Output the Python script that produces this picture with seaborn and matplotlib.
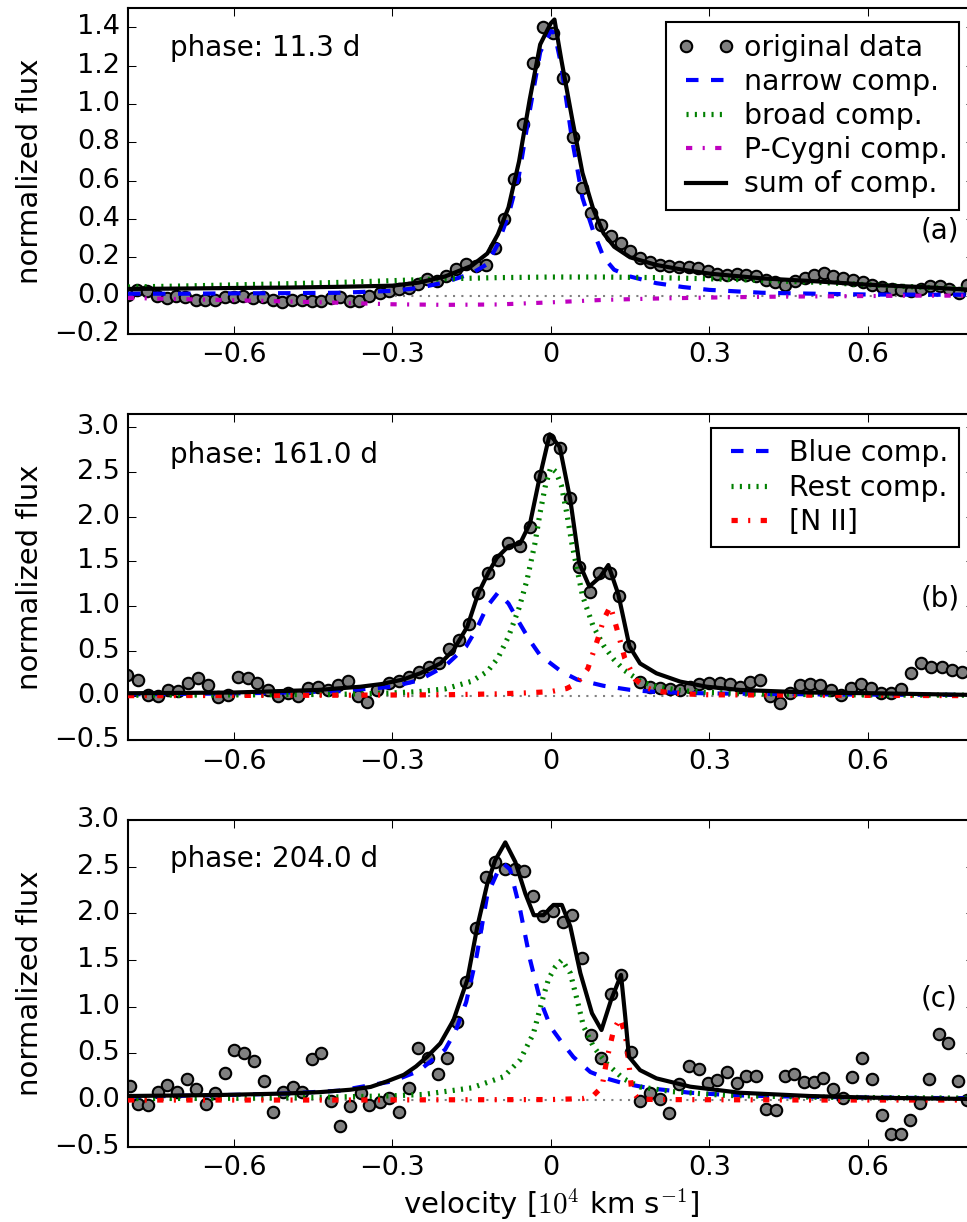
import numpy as np
import seaborn as sns
import matplotlib.pyplot as plt
from matplotlib.ticker import MultipleLocator

plt.style.use('classic')
plt.rcParams['figure.facecolor'] = 'white'
plt.rcParams['savefig.facecolor'] = 'white'
plt.rcParams['mathtext.fontset'] = 'cm'
plt.rcParams['font.family'] = ['DejaVu Sans']
plt.rcParams['font.size'] = 12

# ---------------- panel (a): phase 11.3 d ----------------
a_data_x = [-0.800, -0.783, -0.764, -0.746, -0.727, -0.709, -0.692, -0.671, -0.655, -0.636,
            -0.617, -0.600, -0.582, -0.563, -0.544, -0.525, -0.508, -0.490, -0.471, -0.452,
            -0.435, -0.416, -0.399, -0.380, -0.362, -0.343, -0.324, -0.307, -0.288, -0.269,
            -0.252, -0.235, -0.216, -0.198, -0.179, -0.161, -0.142, -0.123, -0.105, -0.088,
            -0.069, -0.052, -0.033, -0.015, 0.004, 0.023, 0.042, 0.059, 0.077, 0.095,
            0.114, 0.133, 0.150, 0.169, 0.187, 0.206, 0.224, 0.242, 0.261, 0.278,
            0.297, 0.315, 0.334, 0.352, 0.370, 0.388, 0.407, 0.425, 0.444, 0.462,
            0.481, 0.498, 0.517, 0.535, 0.553, 0.572, 0.590, 0.608, 0.627, 0.645,
            0.663, 0.681, 0.700, 0.717, 0.736, 0.753, 0.772, 0.788]
a_data_y = [0.005, 0.027, 0.022, -0.004, -0.012, -0.004, -0.008, -0.021, -0.024, -0.021,
            -0.008, -0.008, -0.004, -0.012, -0.008, -0.021, -0.033, -0.021, -0.021, -0.026,
            -0.026, -0.012, -0.008, -0.026, -0.026, -0.004, 0.014, 0.026, 0.035, 0.040,
            0.061, 0.087, 0.075, 0.100, 0.139, 0.167, 0.153, 0.162, 0.248, 0.399,
            0.609, 0.894, 1.212, 1.400, 1.371, 1.137, 0.827, 0.561, 0.431, 0.367,
            0.312, 0.275, 0.231, 0.196, 0.174, 0.162, 0.153, 0.147, 0.147, 0.144,
            0.126, 0.114, 0.109, 0.114, 0.109, 0.100, 0.084, 0.069, 0.057, 0.075,
            0.093, 0.109, 0.118, 0.104, 0.093, 0.084, 0.069, 0.057, 0.045, 0.035,
            0.031, 0.022, 0.035, 0.048, 0.052, 0.035, 0.014, 0.057]

a_grid = [-0.8, -0.7, -0.6, -0.5, -0.4, -0.3, -0.25, -0.2, -0.15, -0.12, -0.1, -0.08, -0.06,
          -0.04, -0.02, 0.0, 0.007, 0.02, 0.04, 0.06, 0.08, 0.1, 0.12, 0.15, 0.2, 0.25, 0.3,
          0.4, 0.5, 0.6, 0.7, 0.8]
a_narrow = [0.01, 0.01, 0.012, 0.013, 0.015, 0.025, 0.04, 0.07, 0.115, 0.165, 0.27, 0.42, 0.63,
            0.96, 1.27, 1.38, 1.37, 1.2, 0.82, 0.51, 0.34, 0.2, 0.135, 0.1, 0.065, 0.045, 0.03,
            0.015, 0.01, 0.006, 0.005, 0.005]
a_sum = [0.035, 0.037, 0.04, 0.042, 0.046, 0.052, 0.068, 0.1, 0.155, 0.22, 0.32, 0.46, 0.70,
         1.02, 1.31, 1.42, 1.44, 1.23, 0.93, 0.64, 0.455, 0.325, 0.255, 0.2, 0.16, 0.135, 0.115,
         0.09, 0.075, 0.057, 0.045, 0.03]
a_wide_x = [-0.8, -0.7, -0.6, -0.5, -0.4, -0.3, -0.2, -0.1, 0.0, 0.1, 0.2, 0.3, 0.4, 0.5,
            0.6, 0.7, 0.8]
a_broad = [0.045, 0.05, 0.056, 0.062, 0.069, 0.078, 0.088, 0.094, 0.097, 0.097, 0.094, 0.088,
           0.08, 0.07, 0.057, 0.044, 0.032]
a_pcyg = [-0.012, -0.018, -0.024, -0.03, -0.037, -0.045, -0.048, -0.046, -0.035, -0.022,
          -0.015, -0.01, -0.006, -0.004, -0.002, 0.0, 0.0]

# ---------------- panel (b): phase 161.0 d ----------------
b_data_x = [-0.802, -0.781, -0.763, -0.744, -0.725, -0.706, -0.687, -0.668, -0.649, -0.630,
            -0.611, -0.592, -0.573, -0.555, -0.536, -0.517, -0.498, -0.479, -0.460, -0.441,
            -0.422, -0.403, -0.384, -0.365, -0.347, -0.328, -0.307, -0.288, -0.269, -0.250,
            -0.231, -0.212, -0.193, -0.174, -0.155, -0.137, -0.118, -0.099, -0.080, -0.059,
            -0.040, -0.021, -0.003, 0.017, 0.037, 0.054, 0.075, 0.092, 0.113, 0.130,
            0.149, 0.168, 0.187, 0.206, 0.225, 0.245, 0.263, 0.281, 0.300, 0.321,
            0.340, 0.358, 0.377, 0.396, 0.415, 0.434, 0.453, 0.472, 0.491, 0.510,
            0.530, 0.549, 0.568, 0.587, 0.606, 0.625, 0.643, 0.662, 0.681, 0.700,
            0.719, 0.740, 0.759, 0.778]
b_data_y = [0.23, 0.176, 0.008, -0.003, 0.064, 0.053, 0.138, 0.20, 0.12, -0.018,
            0.008, 0.21, 0.20, 0.145, 0.064, -0.003, 0.027, -0.003, 0.083, 0.10,
            0.064, 0.12, 0.164, -0.003, -0.067, 0.064, 0.146, 0.168, 0.21, 0.27,
            0.32, 0.36, 0.52, 0.62, 0.80, 1.145, 1.375, 1.52, 1.71, 1.67,
            1.89, 2.46, 2.87, 2.77, 2.21, 1.44, 1.16, 1.37, 1.376, 1.115,
            0.55, 0.157, 0.10, 0.083, 0.072, 0.064, 0.094, 0.131, 0.139, 0.139,
            0.131, 0.094, 0.157, 0.176, -0.003, -0.085, 0.027, 0.12, 0.13, 0.12,
            0.064, 0.008, 0.083, 0.131, 0.083, 0.027, 0.027, 0.072, 0.25, 0.37,
            0.325, 0.318, 0.29, 0.27]

b_blue_x = [-0.8, -0.7, -0.6, -0.5, -0.4, -0.3, -0.25, -0.2, -0.16, -0.14, -0.12, -0.1, -0.08,
            -0.06, -0.04, -0.02, 0.0, 0.02, 0.05, 0.1, 0.15, 0.2, 0.3, 0.4, 0.5, 0.6, 0.7, 0.8]
b_blue_y = [0.015, 0.02, 0.025, 0.035, 0.05, 0.1, 0.17, 0.33, 0.55, 0.75, 1.0, 1.15, 1.03,
            0.82, 0.62, 0.45, 0.36, 0.27, 0.18, 0.11, 0.065, 0.04, 0.025, 0.02, 0.015, 0.012,
            0.01, 0.008]
b_rest_x = [-0.8, -0.6, -0.4, -0.3, -0.25, -0.2, -0.15, -0.12, -0.1, -0.08, -0.06, -0.045,
            -0.03, -0.02, -0.01, 0.0, 0.01, 0.02, 0.03, 0.04, 0.05, 0.06, 0.08, 0.1, 0.12,
            0.14, 0.17, 0.2, 0.25, 0.3, 0.4, 0.5, 0.6, 0.8]
b_rest_y = [0.005, 0.008, 0.015, 0.03, 0.045, 0.075, 0.16, 0.27, 0.42, 0.66, 0.98, 1.29,
            1.7, 2.05, 2.35, 2.55, 2.5, 2.35, 2.05, 1.7, 1.41, 1.12, 0.78, 0.56, 0.40,
            0.28, 0.16, 0.1, 0.055, 0.035, 0.02, 0.012, 0.008, 0.005]
b_nii_x = [-0.8, -0.4, -0.2, -0.1, -0.05, 0.0, 0.03, 0.05, 0.07, 0.09, 0.1, 0.113, 0.125,
           0.14, 0.16, 0.18, 0.2, 0.25, 0.3, 0.5, 0.8]
b_nii_y = [0.0, 0.005, 0.01, 0.02, 0.03, 0.045, 0.08, 0.14, 0.3, 0.65, 0.85, 1.0, 0.75,
           0.42, 0.18, 0.09, 0.05, 0.02, 0.01, 0.005, 0.0]
b_sum_x = [-0.8, -0.6, -0.44, -0.36, -0.32, -0.28, -0.247, -0.209, -0.184, -0.158, -0.137,
           -0.118, -0.102, -0.08, -0.058, -0.039, -0.021, -0.002, 0.017, 0.037, 0.054, 0.073,
           0.094, 0.109, 0.128, 0.149, 0.169, 0.2, 0.245, 0.295, 0.358, 0.49, 0.61, 0.8]
b_sum_y = [0.027, 0.035, 0.064, 0.1, 0.13, 0.18, 0.25, 0.36, 0.51, 0.77, 1.145,
           1.375, 1.54, 1.67, 1.70, 1.93, 2.44, 2.92, 2.78, 2.19, 1.48, 1.22,
           1.33, 1.46, 1.13, 0.55, 0.36, 0.25, 0.157, 0.10, 0.064, 0.035, 0.027, 0.008]

# ---------------- panel (c): phase 204.0 d ----------------
c_data_x = [-0.797, -0.782, -0.763, -0.744, -0.727, -0.707, -0.689, -0.671, -0.652, -0.635,
            -0.616, -0.599, -0.580, -0.562, -0.543, -0.525, -0.507, -0.488, -0.471, -0.452,
            -0.434, -0.416, -0.399, -0.380, -0.360, -0.343, -0.324, -0.307, -0.288, -0.269,
            -0.251, -0.233, -0.214, -0.196, -0.177, -0.160, -0.141, -0.123, -0.105, -0.086,
            -0.068, -0.050, -0.033, -0.014, 0.005, 0.023, 0.041, 0.059, 0.077, 0.096,
            0.114, 0.133, 0.151, 0.169, 0.187, 0.206, 0.224, 0.242, 0.261, 0.280,
            0.297, 0.315, 0.333, 0.352, 0.370, 0.389, 0.407, 0.426, 0.444, 0.461,
            0.479, 0.498, 0.516, 0.535, 0.553, 0.571, 0.589, 0.608, 0.626, 0.643,
            0.662, 0.680, 0.698, 0.716, 0.735, 0.752, 0.771, 0.787]
c_data_y = [0.15, -0.043, -0.054, 0.089, 0.16, 0.089, 0.22, 0.114, -0.043, 0.071,
            0.286, 0.536, 0.50, 0.42, 0.204, -0.125, 0.089, 0.143, 0.089, 0.436,
            0.50, -0.007, -0.279, -0.064, 0.071, -0.054, -0.018, 0.025, -0.125, 0.132,
            0.554, 0.454, 0.279, 0.446, 0.839, 1.268, 1.84, 2.39, 2.55, 2.47,
            2.48, 2.45, 2.19, 1.97, 2.03, 1.91, 1.98, 1.52, 0.70, 0.446,
            1.14, 1.34, 0.51, -0.011, 0.071, 0.011, -0.143, 0.168, 0.368, 0.332,
            0.186, 0.214, 0.304, 0.186, 0.257, 0.257, -0.1, -0.107, 0.257, 0.279,
            0.196, 0.196, 0.232, 0.114, 0.025, 0.25, 0.454, 0.225, -0.161, -0.364,
            -0.364, -0.214, -0.036, 0.222, 0.707, 0.614, 0.207, 0.0]

c_blue_x = [-0.8, -0.7, -0.6, -0.5, -0.4, -0.3, -0.25, -0.2, -0.18, -0.16, -0.14, -0.12,
            -0.1, -0.089, -0.077, -0.058, -0.039, -0.02, 0.0, 0.018, 0.043, 0.075, 0.106,
            0.137, 0.188, 0.264, 0.35, 0.45, 0.55, 0.7, 0.8]
c_blue_y = [0.035, 0.045, 0.055, 0.07, 0.1, 0.2, 0.31, 0.54, 0.74, 1.05, 1.55, 2.2,
            2.45, 2.53, 2.47, 2.04, 1.5, 1.07, 0.78, 0.64, 0.46, 0.30, 0.23,
            0.18, 0.125, 0.078, 0.05, 0.038, 0.03, 0.022, 0.02]
c_rest_x = [-0.8, -0.6, -0.43, -0.3, -0.24, -0.15, -0.089, -0.058, -0.033, -0.014, -0.004,
            0.009, 0.021, 0.037, 0.05, 0.062, 0.081, 0.106, 0.137, 0.169, 0.23, 0.33, 0.5, 0.8]
c_rest_y = [0.015, 0.02, 0.03, 0.045, 0.06, 0.13, 0.25, 0.43, 0.71, 1.11, 1.3,
            1.43, 1.5, 1.36, 1.07, 0.79, 0.57, 0.39, 0.23, 0.14, 0.09, 0.05, 0.03, 0.02]
c_nii_x = [-0.8, -0.4, 0.0, 0.06, 0.081, 0.097, 0.106, 0.119, 0.131, 0.141, 0.148, 0.153,
           0.166, 0.2, 0.5, 0.8]
c_nii_y = [0.0, 0.0, 0.005, 0.015, 0.05, 0.14, 0.43, 0.75, 0.875, 0.71, 0.39, 0.107,
           0.01, 0.005, 0.0, 0.0]
c_sum_x = [-0.8, -0.626, -0.5, -0.436, -0.38, -0.341, -0.31, -0.278, -0.255, -0.234, -0.209,
           -0.184, -0.158, -0.139, -0.12, -0.105, -0.086, -0.067, -0.048, -0.032, -0.014,
           0.005, 0.021, 0.037, 0.056, 0.078, 0.096, 0.114, 0.133, 0.141, 0.148, 0.169,
           0.2, 0.264, 0.358, 0.49, 0.61, 0.8]
c_sum_y = [0.043, 0.054, 0.07, 0.085, 0.11, 0.14, 0.2, 0.27, 0.36, 0.464, 0.607,
           0.857, 1.286, 1.857, 2.32, 2.57, 2.76, 2.55, 2.21, 1.98, 1.98,
           2.09, 2.09, 1.86, 1.36, 0.93, 0.75, 1.07, 1.34, 0.89, 0.464, 0.32,
           0.232, 0.143, 0.078, 0.043, 0.025, 0.011]

xtick_vals = [-0.6, -0.3, 0, 0.3, 0.6]
xtick_labels = ['\u22120.6', '\u22120.3', '0', '0.3', '0.6']


def line(ax, x, y, color, ls, lw, label=None, z=3):
    sns.lineplot(x=x, y=y, ax=ax, color=color, linestyle=ls, linewidth=lw,
                 sort=False, estimator=None, legend=False, label=label, zorder=z)


def points(ax, x, y, label=None):
    sns.lineplot(x=x, y=y, ax=ax, color='0.5', marker='o', linestyle='', markersize=5.5,
                 markeredgecolor='k', markeredgewidth=1, sort=False, estimator=None,
                 legend=False, label=label, zorder=2)


def setup(ax, ylo, yhi, step, phase_txt, phase_y, tag, tag_y):
    ax.axhline(0, color='gray', linestyle=':', linewidth=1, zorder=1)
    ax.set_xlim(-0.8, 0.8)
    ax.set_ylim(ylo, yhi)
    ax.yaxis.set_major_locator(MultipleLocator(step))
    ax.set_xticks(xtick_vals)
    ax.set_xticklabels(xtick_labels)
    ax.tick_params(labelsize=13)
    ax.set_ylabel('normalized flux', fontsize=14)
    ax.set_xlabel('')
    ax.text(-0.72, phase_y, phase_txt, fontsize=13.3)
    ax.text(0.7, tag_y, tag, fontsize=13.3)


def add_legend(ax):
    ax.legend(loc='upper right', fontsize=13.6, handlelength=2.0, labelspacing=0.22,
              borderpad=0.4, handletextpad=0.35)


fig = plt.figure(figsize=(967 / 150, 1222 / 150), dpi=150)
left, width = 128 / 967, 845.5 / 967
ax1 = fig.add_axes([left, 1 - 334 / 1222, width, 326 / 1222])
ax2 = fig.add_axes([left, 1 - 740.4 / 1222, width, 326.6 / 1222])
ax3 = fig.add_axes([left, 1 - 1146.7 / 1222, width, 326.7 / 1222])

# panel (a)
points(ax1, a_data_x, a_data_y, 'original data')
line(ax1, a_grid, a_narrow, 'b', '--', 2, 'narrow comp.')
line(ax1, a_wide_x, a_broad, 'g', ':', 2.5, 'broad comp.')
line(ax1, a_wide_x, a_pcyg, 'm', '-.', 2, 'P-Cygni comp.')
line(ax1, a_grid, a_sum, 'k', '-', 2, 'sum of comp.', z=4)
setup(ax1, -0.2, 1.5, 0.2, 'phase: 11.3 d', 1.25, '(a)', 0.3)
add_legend(ax1)

# panel (b)
points(ax2, b_data_x, b_data_y)
line(ax2, b_blue_x, b_blue_y, 'b', '--', 2, 'Blue comp.')
line(ax2, b_rest_x, b_rest_y, 'g', ':', 2.5, 'Rest comp.')
line(ax2, b_nii_x, b_nii_y, 'r', '-.', 2.5, '[N II]')
line(ax2, b_sum_x, b_sum_y, 'k', '-', 2, z=4)
setup(ax2, -0.5, 3.15, 0.5, 'phase: 161.0 d', 2.6, '(b)', 1.0)
add_legend(ax2)

# panel (c)
points(ax3, c_data_x, c_data_y)
line(ax3, c_blue_x, c_blue_y, 'b', '--', 2)
line(ax3, c_rest_x, c_rest_y, 'g', ':', 2.5)
line(ax3, c_nii_x, c_nii_y, 'r', '-.', 2.5)
line(ax3, c_sum_x, c_sum_y, 'k', '-', 2, z=4)
setup(ax3, -0.5, 3.0, 0.5, 'phase: 204.0 d', 2.5, '(c)', 1.0)
ax3.set_xlabel('velocity [$10^4$ km s$^{-1}$]', fontsize=14, labelpad=3)

fig.savefig('out.png', dpi=150)
